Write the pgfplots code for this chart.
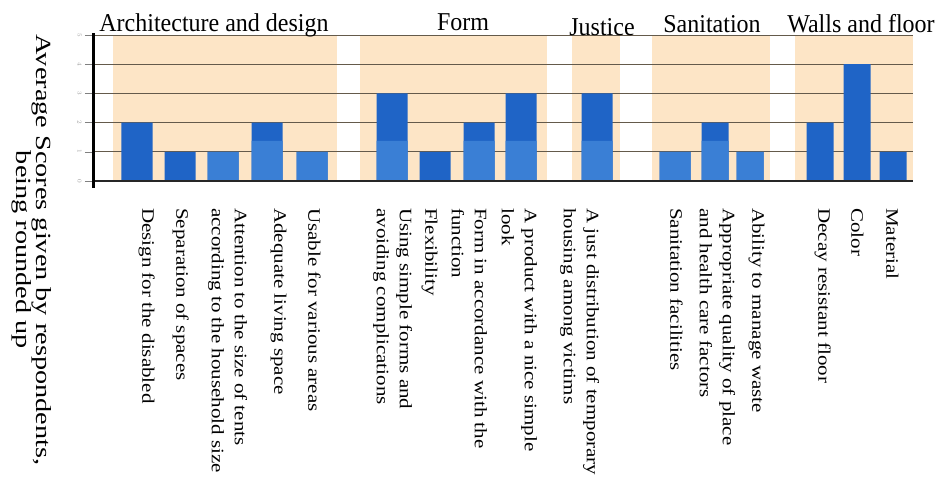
\documentclass[border=0pt]{standalone}
\usepackage{fontspec}
\setmainfont{Liberation Serif}
\usepackage{graphicx}
\usepackage{pgfplots}
\pgfplotsset{compat=1.18}

\definecolor{band}{RGB}{253,229,198}
\definecolor{bardark}{RGB}{31,100,198}
\definecolor{barlight}{RGB}{58,127,213}
\definecolor{gridc}{RGB}{100,90,75}

% rotated category labels are a bit stretched along their length in the scan
\newcommand\lab[1]{\scalebox{1.2}[1]{\begin{tabular}{@{}l@{}}#1\end{tabular}}}
\newcommand\ttl[1]{\scalebox{1}[1.07]{#1}}
% y position in data units from a pixel row of the reference
\newcommand\py[1]{\fpeval{(181-#1)/29.2}}

\begin{document}
\begin{tikzpicture}
\begin{axis}[
  scale only axis, width=819pt, height=146pt,
  xmin=94, xmax=913, ymin=0, ymax=5,
  clip=false, axis on top,
  axis x line*=bottom, axis y line*=left,
  every outer x axis line/.append style={-},
  every outer y axis line/.append style={-},
  x axis line style={line width=1.5pt, black!85},
  y axis line style={line width=3pt, black, shorten <=-7pt, shorten >=-2pt},
  ytick={0,1,2,3,4,5},
  tick align=outside, major tick length=9pt,
  ytick style={gray, line width=0.6pt},
  yticklabel style={rotate=-90, anchor=north, font=\fontsize{6}{6}\selectfont, text=gray!80},
  xtick={147,181,228,279,313,393,430,468,518,580,675,716,757,823,856,891},
  xtick style={draw=none},
  xticklabel shift=18pt,
  xticklabel style={rotate=-90, anchor=west, inner sep=0pt, font=\fontsize{17.5}{23}\selectfont},
  xticklabels={
    {\lab{Design for the disabled}},
    {\lab{Separation of spaces}},
    {\lab{Attention to the size of tents\\according to the household size}},
    {\lab{Adequate living space}},
    {\lab{Usable for various areas}},
    {\lab{Using simple forms and\\avoiding complications}},
    {\lab{Flexibility}},
    {\lab{Form in accordance with the\\function}},
    {\lab{A product with a nice simple\\look}},
    {\lab{A just distribution of temporary\\housing among victims}},
    {\lab{Sanitation facilities}},
    {\lab{Appropriate quality of place\\and health care factors}},
    {\lab{Ability to manage waste}},
    {\lab{Decay resistant floor}},
    {\lab{Color}},
    {\lab{Material}}},
]
% page extent: the reference's 936x481 frame
\path (axis cs:0,{\py{0}}) rectangle (axis cs:936,{\py{481}});

% shaded group bands
\addplot[fill=band, draw=none] coordinates {(113,5)(337,5)} \closedcycle;
\addplot[fill=band, draw=none] coordinates {(360,5)(547,5)} \closedcycle;
\addplot[fill=band, draw=none] coordinates {(572,5)(620,5)} \closedcycle;
\addplot[fill=band, draw=none] coordinates {(652,5)(770,5)} \closedcycle;
\addplot[fill=band, draw=none] coordinates {(795,5)(913,5)} \closedcycle;
% horizontal grid lines
\foreach \g in {1,2,3,4,5} {
  \addplot[gridc, line width=0.7pt, mark=none] coordinates {(94,\g)(913,\g)};
}

% full bars
\addplot[ybar, bar width=31, bar shift=0pt, fill=bardark, draw=none]
  coordinates {(137,2)(180,1)(223,1)(267,2)(312,1)(392,3)(435,1)(479,2)(521,3)(597,3)(675,1)};
\addplot[ybar, bar width=27, bar shift=0pt, fill=bardark, draw=none]
  coordinates {(715,2)(750,1)(820,2)(857,4)(893,1)};
% lighter lower part seen on some bars
\addplot[ybar, bar width=31, bar shift=0pt, fill=barlight, draw=none]
  coordinates {(223,1)(267,1.37)(312,1)(392,1.37)(479,1.37)(521,1.37)(597,1.37)(675,1)};
\addplot[ybar, bar width=27, bar shift=0pt, fill=barlight, draw=none]
  coordinates {(715,1.37)(750,1)};

% group titles
\begin{scope}[every node/.style={font=\fontsize{24}{26}\selectfont, anchor=base, inner sep=0pt}]
\node at (axis cs:214,{\py{31}}) {\ttl{Architecture and design}};
\node at (axis cs:463,{\py{30}}) {\ttl{Form}};
\node at (axis cs:602,{\py{35}}) {\ttl{Justice}};
\node at (axis cs:712,{\py{32}}) {\ttl{Sanitation}};
\node at (axis cs:861,{\py{32}}) {\ttl{Walls and floor}};
\end{scope}

% axis title
\node[rotate=-90, font=\fontsize{21.6}{18}\selectfont, inner sep=0pt] at (axis cs:31,{\py{250}})
  {\scalebox{1.31}[1]{\begin{tabular}{@{}c@{}}Average Scores given by respondents,\\being rounded up\end{tabular}}};
\end{axis}
\end{tikzpicture}
\end{document}
